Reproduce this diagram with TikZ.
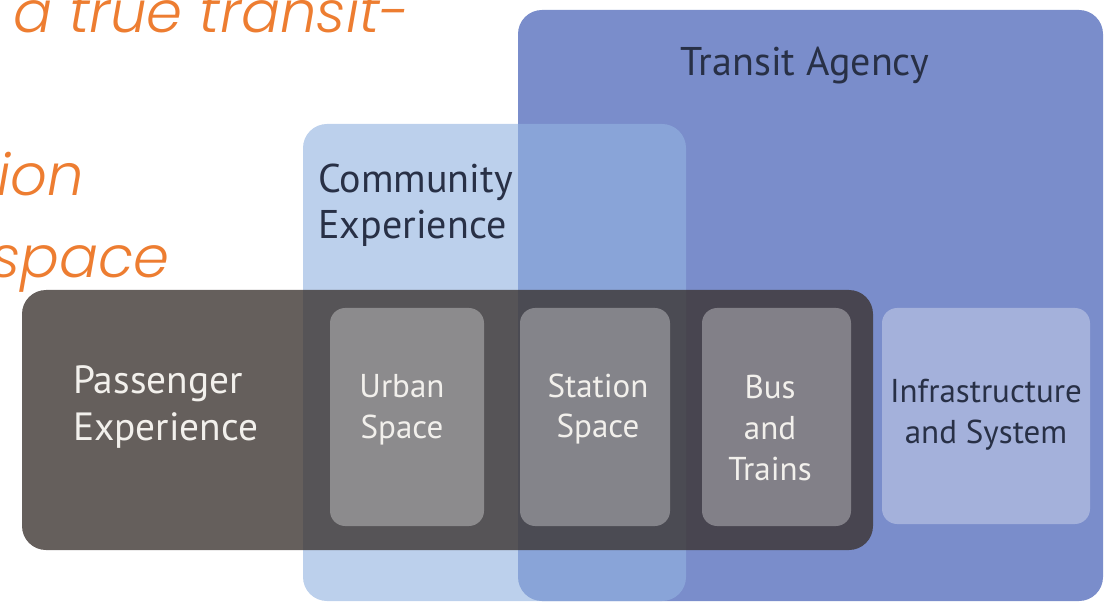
\documentclass[tikz,border=0pt]{standalone}
\usepackage{fontspec}
\setmainfont{PT Sans}
\newfontfamily\slidefont{Poppins Light Italic}
\usetikzlibrary{positioning}

\definecolor{agencyblue}{RGB}{122,141,203}
\definecolor{communityblue}{RGB}{147,179,224}
\definecolor{passdark}{RGB}{58,50,46}
\definecolor{labeltext}{RGB}{40,48,70}
\definecolor{lighttext}{RGB}{242,240,236}
\definecolor{slideorange}{RGB}{237,125,49}

\begin{document}
\begin{tikzpicture}[x=0.025cm, y=-0.025cm,
  bigbox/.style={rounded corners=0.6cm},
  innerbox/.style={fill=white, fill opacity=0.32, rounded corners=0.38cm},
  darklabel/.style={font=\fontsize{28.5}{33}\selectfont, text=labeltext, inner sep=0pt},
  lightlabel/.style={font=\fontsize{28}{34}\selectfont, text=lighttext, inner sep=0pt},
  innerlabel/.style={font=\fontsize{23.5}{29}\selectfont, text=lighttext, inner sep=0pt, align=center},
  slidetext/.style={font=\slidefont\fontsize{41}{58}\selectfont, text=slideorange, inner sep=0pt, anchor=base east}]
  % fixed frame, 1 unit = 1 pixel
  \useasboundingbox (0,0) rectangle (1109,602);
  \clip (0,0) rectangle (1109,602);

  % cut-off slide text
  \node[slidetext] (sline1) at (410,33) {a true transit-};
  \node[slidetext] (sline2) at (84,196) {tion};
  \node[slidetext] (sline3) at (170,278) {space};

  % big areas
  \fill[bigbox, agencyblue] (518,10) rectangle (1103,601);
  \fill[bigbox, communityblue, fill opacity=0.62] (303,124) rectangle (686,601);
  \fill[bigbox, passdark, fill opacity=0.78] (22,290) rectangle (873,550);

  % inner boxes
  \fill[innerbox] (330,308) rectangle (484,526);
  \fill[innerbox] (520,308) rectangle (670,526);
  \fill[innerbox] (702,308) rectangle (851,526);
  \fill[innerbox] (882,308) rectangle (1090,524);

  % labels
  \node[darklabel] (agency) at (805,66) {Transit Agency};
  \node[darklabel, anchor=west, align=left] (community) at (318,205) {Community\\Experience};
  \node[lightlabel, anchor=west, align=left] (passenger) at (73,407) {Passenger\\Experience};
  \node[innerlabel] (urban) at (402,410) {Urban\\Space};
  \node[innerlabel] (station) at (598,409) {Station\\Space};
  \node[innerlabel] (bus) at (770,428) {Bus\\and\\Trains};
  \node[innerlabel, text=labeltext] (infra) at (986,415) {Infrastructure\\and System};
\end{tikzpicture}
\end{document}
